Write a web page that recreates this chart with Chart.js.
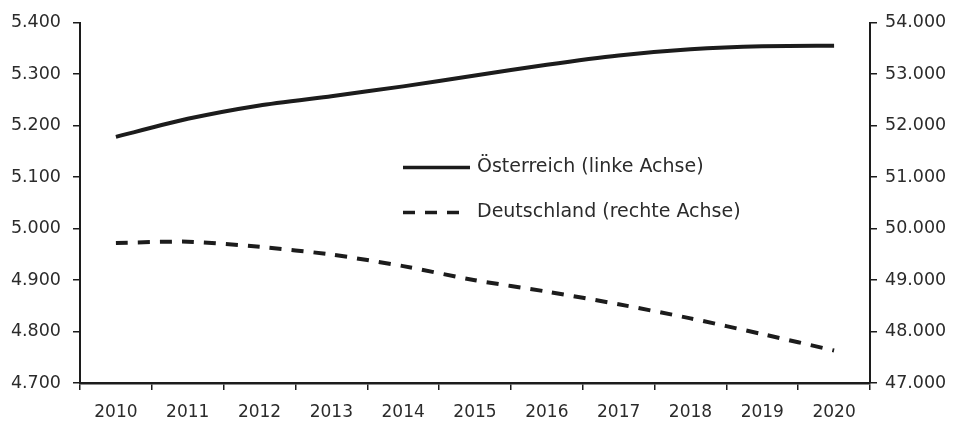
<!DOCTYPE html>
<html>
<head>
<meta charset="utf-8">
<script src="https://cdn.jsdelivr.net/npm/chart.js@4.4.0/dist/chart.umd.min.js"></script>
<style>
  html, body { margin: 0; padding: 0; background: #fff; }
  #wrap { width: 954px; height: 428px; }
</style>
</head>
<body>
<div id="wrap"><canvas id="grafica" width="954" height="428"></canvas></div>
<script>
// Jahre (Kategorien)
const jahre = ['2010', '2011', '2012', '2013', '2014', '2015', '2016', '2017', '2018', '2019', '2020'];

// Österreich, linke Achse
const oesterreich = [5178, 5213, 5239, 5257, 5276, 5297, 5318, 5336, 5348, 5354, 5355];

// Deutschland, rechte Achse
const deutschland = [49720, 49745, 49645, 49495, 49270, 48995, 48775, 48530, 48255, 47950, 47630];

const serienNamen = ['Österreich (linke Achse)', 'Deutschland (rechte Achse)'];

const schrift = '"DejaVu Sans", sans-serif';
const textFarbe = '#2b2b2b';
const linienFarbe = '#1c1c1c';

// Zahl mit Punkt als Tausendertrenner
function tausender(v) {
    return String(Math.round(v)).replace(/\B(?=(\d{3})+(?!\d))/g, '.');
}

// Legende innerhalb der Zeichenfläche
const legendePlugin = {
    id: 'legendeInnen',
    afterDraw(chart) {
        const ctx = chart.ctx;
        const a = chart.chartArea;
        const x0 = a.left + 323;
        const eintraege = [
            { y: a.top + 145, ende: x0 + 67, dash: [] },
            { y: a.top + 190, ende: x0 + 57, dash: [12, 10] }
        ];
        ctx.save();
        eintraege.forEach((e, i) => {
            ctx.beginPath();
            ctx.setLineDash(e.dash);
            ctx.lineWidth = 3.5;
            ctx.strokeStyle = linienFarbe;
            ctx.moveTo(x0, e.y);
            ctx.lineTo(e.ende, e.y);
            ctx.stroke();
            ctx.setLineDash([]);
            ctx.fillStyle = textFarbe;
            ctx.font = '19px ' + schrift;
            ctx.textBaseline = 'middle';
            ctx.textAlign = 'left';
            ctx.fillText(serienNamen[i], x0 + 74, e.y);
        });
        ctx.restore();
    }
};

const achse = {
    grid: { display: true, drawOnChartArea: false, drawTicks: true, tickLength: 7, color: '#1c1c1c', lineWidth: 1.5 },
    border: { display: true, color: '#1c1c1c', width: 2 }
};

new Chart(document.getElementById('grafica'), {
    type: 'line',
    data: {
        labels: jahre,
        datasets: [
            {
                label: serienNamen[0],
                data: oesterreich,
                yAxisID: 'y',
                borderColor: linienFarbe,
                borderWidth: 4,
                pointRadius: 0,
                tension: 0.2,
                fill: false
            },
            {
                label: serienNamen[1],
                data: deutschland,
                yAxisID: 'y1',
                borderColor: linienFarbe,
                borderWidth: 4,
                borderDash: [12, 10],
                pointRadius: 0,
                tension: 0.2,
                fill: false
            }
        ]
    },
    options: {
        responsive: false,
        animation: false,
        layout: { padding: { top: 20, left: 0, right: 0, bottom: 0 } },
        plugins: { legend: { display: false }, tooltip: { enabled: false } },
        scales: {
            x: {
                offset: true,
                grid: { ...achse.grid, offset: true },
                border: { ...achse.border, width: 2.5 },
                ticks: { color: textFarbe, font: { family: schrift, size: 17 }, padding: 12, maxRotation: 0 },
                afterFit(s) { s.height = 45; }
            },
            y: {
                position: 'left',
                min: 4700,
                max: 5400,
                ...achse,
                ticks: { stepSize: 100, color: textFarbe, font: { family: schrift, size: 17.5 }, padding: 12, callback: tausender },
                afterFit(s) { s.width = 80; }
            },
            y1: {
                position: 'right',
                min: 47000,
                max: 54000,
                ...achse,
                ticks: { stepSize: 1000, color: textFarbe, font: { family: schrift, size: 17.5 }, padding: 8, callback: tausender },
                afterFit(s) { s.width = 84; }
            }
        }
    },
    plugins: [legendePlugin]
});
</script>
</body>
</html>
